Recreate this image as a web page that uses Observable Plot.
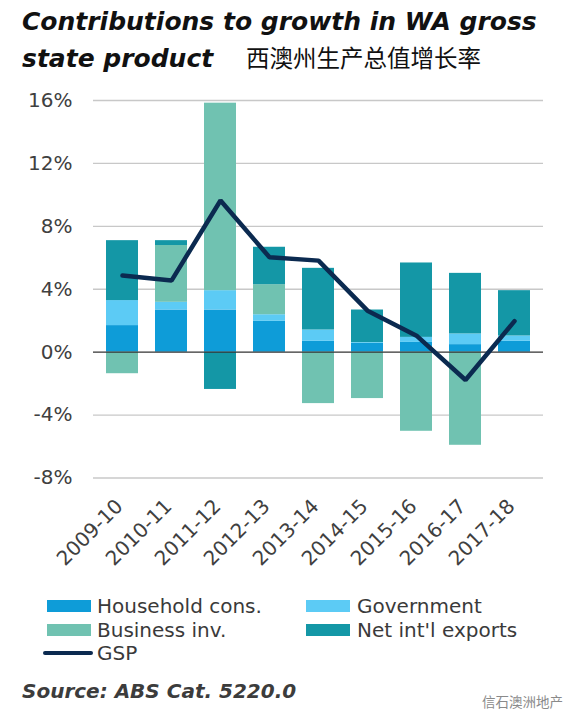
<!DOCTYPE html>
<html>
<head>
<meta charset="utf-8">
<script src="https://cdn.jsdelivr.net/npm/d3@7"></script>
<script src="https://cdn.jsdelivr.net/npm/@observablehq/plot@0.6"></script>
<style>
  html, body { margin: 0; padding: 0; background: #fff; }
  #page { position: relative; width: 582px; height: 727px; overflow: hidden; font-family: "DejaVu Sans", sans-serif; }
  .abs { position: absolute; white-space: nowrap; }
  .title { font-size: 25px; line-height: 25px; font-weight: bold; font-style: italic; color: #111; }
  .cn { font-family: "Noto Sans CJK SC", sans-serif; font-size: 23.5px; line-height: 23.5px; color: #111; }
  .leg { font-size: 20px; line-height: 20px; color: #3a3a3a; }
  .sw { position: absolute; height: 12px; }
  .src { font-size: 20px; line-height: 20px; font-weight: bold; font-style: italic; color: #3c3c3c; }
  .wm { font-family: "Noto Sans CJK SC", sans-serif; font-size: 13.5px; line-height: 13.5px; color: #8a8a8a; }
  #chart { position: absolute; left: 0; top: 80px; }
</style>
</head>
<body>
<div id="page">
  <div class="abs title" style="left:22px; top:8.9px;">Contributions to growth in WA gross</div>
  <div class="abs title" style="left:22px; top:45.9px;">state product</div>
  <div class="abs cn" style="left:246px; top:46px;">西澳州生产总值增长率</div>
  <div id="chart"></div>
  <div id="legend"></div>
  <div class="abs src" style="left:22px; top:681px;">Source: ABS Cat. 5220.0</div>
  <div class="abs wm" style="left:482px; top:695px;">信石澳洲地产</div>
</div>
<script>
// ---- data ----
const years = ["2009-10", "2010-11", "2011-12", "2012-13", "2013-14", "2014-15", "2015-16", "2016-17", "2017-18"];
const household = [1.69, 2.68, 2.68, 1.96, 0.69, 0.56, 0.62, 0.48, 0.69];
const government = [1.59, 0.49, 1.23, 0.42, 0.72, 0.05, 0.32, 0.68, 0.34];
const business = [-1.37, 3.61, 11.92, 1.91, -3.27, -2.95, -5.03, -5.92, 0];
const netExports = [3.81, 0.31, -2.37, 2.38, 3.92, 2.07, 4.73, 3.85, 2.88];
const gsp = [4.87, 4.55, 9.64, 6.03, 5.82, 2.64, 1.05, -1.77, 1.97];
const seriesNames = ["Household cons.", "Government", "Business inv.", "Net int'l exports"];
const seriesColors = ["#0E9CD8", "#5CCBF5", "#70C2B1", "#1497A6"];
const lineName = "GSP";
const lineColor = "#0B2A50";
const yTicks = [-8, -4, 0, 4, 8, 12, 16];

// ---- build tables ----
const rows = [];
[household, government, business, netExports].forEach((vals, i) =>
  vals.forEach((v, j) => rows.push({year: years[j], series: seriesNames[i], value: v})));
const gspRows = years.map((y, i) => ({year: y, value: gsp[i]}));

const chart = Plot.plot({
  width: 582,
  height: 520,
  marginTop: 20,
  marginBottom: 122.5,
  marginLeft: 93,
  marginRight: 39,
  style: {fontFamily: "DejaVu Sans", background: "white", overflow: "visible"},
  x: {domain: years, paddingInner: 0.34, paddingOuter: 0.2, label: null},
  y: {domain: [-8, 16], label: null},
  color: {domain: seriesNames, range: seriesColors},
  marks: [
    Plot.gridY(yTicks.filter(d => d !== 0), {stroke: "#c8c8c8", strokeOpacity: 1, strokeWidth: 1.3}),
    Plot.barY(rows, Plot.stackY({x: "year", y: "value", fill: "series"})),
    Plot.ruleY([0], {stroke: "#333", strokeWidth: 1.3}),
    Plot.lineY(gspRows, {x: "year", y: "value", stroke: lineColor, strokeWidth: 4.5, strokeLinejoin: "miter"}),
    Plot.axisY({ticks: yTicks, tickSize: 0, tickPadding: 21, tickFormat: d => d + "%", fontSize: 20, fill: "#404040", label: null}),
    Plot.axisX({tickSize: 0, tickRotate: -45, tickPadding: 27, dx: -3, dy: -2, fontSize: 20, fill: "#404040", label: null})
  ]
});
document.getElementById("chart").appendChild(chart);

// ---- legend ----
const legend = document.getElementById("legend");
const legItems = [
  {name: seriesNames[0], color: seriesColors[0], sx: 47, tx: 97, cy: 606},
  {name: seriesNames[1], color: seriesColors[1], sx: 306, tx: 357, cy: 606},
  {name: seriesNames[2], color: seriesColors[2], sx: 47, tx: 97, cy: 630},
  {name: seriesNames[3], color: seriesColors[3], sx: 306, tx: 357, cy: 630}
];
legItems.forEach(it => {
  const sw = document.createElement("div");
  sw.className = "sw";
  sw.style.left = it.sx + "px"; sw.style.top = (it.cy - 6) + "px";
  sw.style.width = "44px"; sw.style.background = it.color;
  legend.appendChild(sw);
  const t = document.createElement("div");
  t.className = "abs leg";
  t.style.left = it.tx + "px"; t.style.top = (it.cy + 7.3 - 16.9) + "px";
  t.textContent = it.name;
  legend.appendChild(t);
});
const ln = document.createElement("div");
ln.className = "abs";
ln.style.cssText = `left:43px; top:651px; width:50px; height:4px; border-radius:2px; background:${lineColor};`;
legend.appendChild(ln);
const lt = document.createElement("div");
lt.className = "abs leg";
lt.style.left = "97px"; lt.style.top = (653 + 7.3 - 16.9) + "px";
lt.textContent = lineName;
legend.appendChild(lt);
</script>
</body>
</html>
